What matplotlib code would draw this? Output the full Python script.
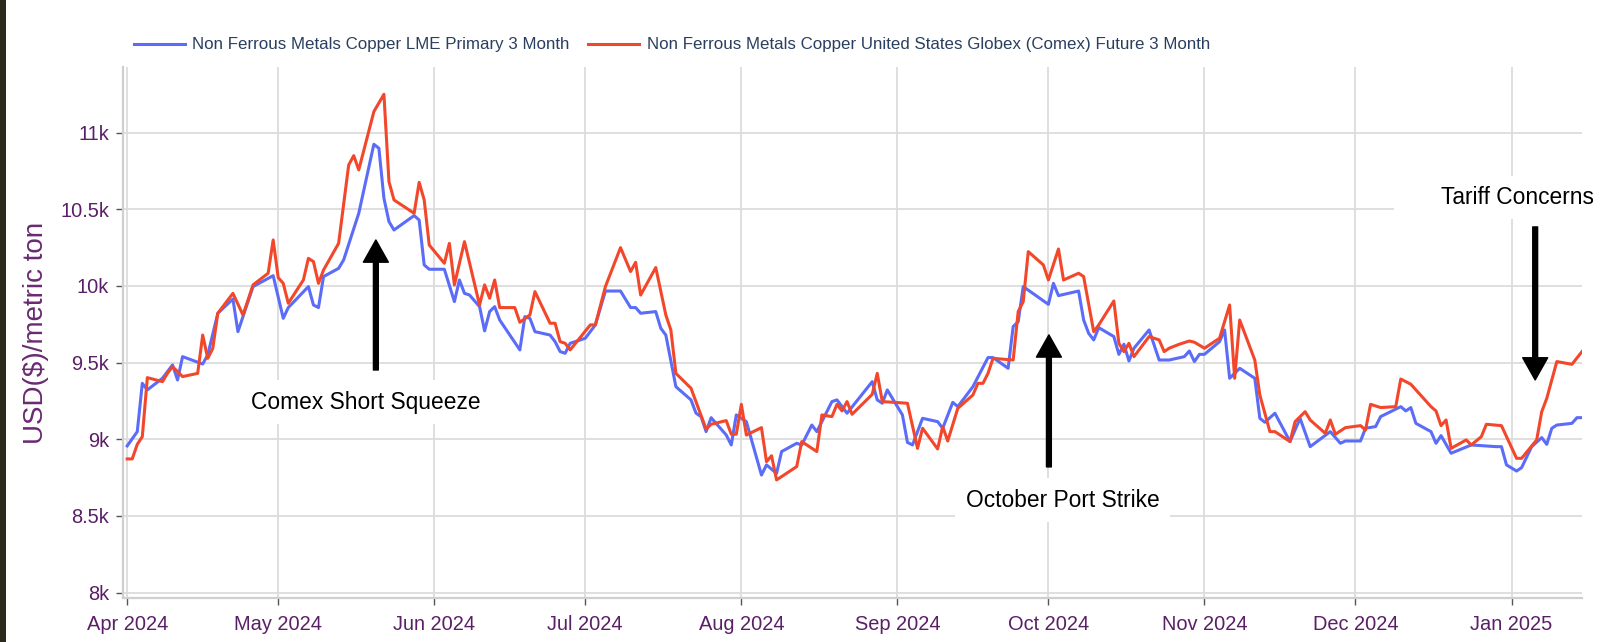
import numpy as np
import pandas as pd
import matplotlib
matplotlib.use('Agg')
import matplotlib.pyplot as plt
import matplotlib.dates as mdates
from matplotlib.ticker import FuncFormatter
from matplotlib.lines import Line2D
from matplotlib.patches import Rectangle

plt.rcParams['font.family'] = ['Liberation Sans', 'DejaVu Sans']

start = pd.Timestamp('2024-04-01')

# LME primary 3 month (days since 2024-04-01, USD/t)
lme_day = [0, 2, 3, 4, 7, 9, 10, 11, 15, 16, 18, 21, 22, 25, 29, 31, 32, 36, 37, 38,
           39, 42, 43, 46, 49, 50, 51, 52, 53, 57, 58, 59, 60, 63, 65, 66, 67, 68, 70, 71,
           72, 73, 74, 78, 79, 80, 81, 84, 85, 86, 87, 88, 91, 92, 93, 95, 98, 100, 101, 102,
           105, 106, 107, 109, 112, 113, 114, 115, 116, 119, 120, 121, 123, 126, 127, 129, 130, 133, 134, 136,
           137, 140, 141, 143, 148, 149, 150, 151, 154, 155, 156, 158, 161, 162, 164, 165, 168, 171, 172, 175,
           176, 177, 178, 183, 184, 185, 189, 190, 191, 192, 193, 196, 197, 198, 199, 200, 203, 205, 207, 210,
           211, 212, 213, 214, 217, 218, 219, 221, 224, 225, 226, 228, 231, 233, 235, 239, 241, 242, 245, 246,
           248, 249, 253, 254, 255, 256, 259, 260, 261, 263, 267, 272, 273, 274, 276, 277, 279, 281, 282, 283,
           284, 287, 288, 289]
lme_val = [8957, 9050, 9365, 9322, 9398, 9485, 9387, 9539, 9491, 9550, 9822, 9915, 9702, 9996, 10067, 9789, 9859, 9996, 9876, 9859,
           10061, 10115, 10170, 10474, 10924, 10898, 10572, 10420, 10365, 10459, 10430, 10137, 10109, 10109, 9898, 10039, 9952, 9941, 9865, 9707,
           9833, 9865, 9778, 9583, 9800, 9789, 9702, 9680, 9637, 9572, 9561, 9626, 9659, 9702, 9746, 9967, 9967, 9859, 9859, 9822,
           9833, 9724, 9680, 9343, 9257, 9170, 9148, 9050, 9141, 9028, 8963, 9159, 9115, 8767, 8833, 8778, 8920, 8974, 8963, 9093,
           9050, 9246, 9257, 9170, 9376, 9257, 9235, 9322, 9159, 8980, 8963, 9137, 9115, 9072, 9241, 9213, 9343, 9533, 9533, 9463,
           9735, 9767, 9996, 9880, 10017, 9937, 9967, 9778, 9691, 9648, 9728, 9670, 9554, 9620, 9511, 9594, 9713, 9517, 9517, 9539,
           9576, 9507, 9554, 9554, 9637, 9713, 9398, 9463, 9398, 9137, 9111, 9170, 8985, 9137, 8952, 9050, 8974, 8989, 8989, 9072,
           9083, 9148, 9213, 9185, 9207, 9104, 9050, 8974, 9024, 8909, 8963, 8952, 8952, 8833, 8793, 8815, 8952, 9011, 8967, 9072,
           9093, 9104, 9141, 9141]

# Comex future 3 month
comex_day = [0, 1, 2, 3, 4, 7, 8, 9, 10, 11, 14, 15, 16, 17, 18, 21, 23, 25, 28, 29,
             30, 31, 32, 35, 36, 37, 38, 39, 42, 44, 45, 46, 49, 51, 52, 53, 57, 58, 59, 60,
             63, 64, 65, 67, 70, 71, 72, 73, 74, 77, 78, 80, 81, 84, 85, 86, 87, 88, 92, 93,
             95, 98, 100, 101, 102, 105, 107, 108, 109, 112, 115, 116, 119, 120, 121, 122, 123, 126, 127, 128,
             129, 133, 134, 137, 138, 140, 141, 142, 143, 144, 148, 149, 150, 155, 157, 158, 161, 162, 163, 165,
             168, 169, 170, 171, 172, 176, 177, 178, 179, 182, 183, 185, 186, 189, 190, 192, 193, 196, 197, 198,
             199, 200, 203, 205, 206, 207, 209, 211, 212, 214, 217, 219, 220, 221, 224, 225, 227, 228, 231, 232,
             234, 235, 238, 239, 240, 242, 245, 246, 247, 249, 252, 253, 255, 259, 260, 261, 262, 263, 266, 267,
             269, 270, 273, 276, 277, 280, 281, 282, 284, 287, 289]
comex_val = [8872, 8872, 8967, 9017, 9402, 9376, 9430, 9474, 9441, 9409, 9430, 9680, 9528, 9593, 9822, 9952, 9811, 10007, 10083, 10300,
             10054, 10017, 9887, 10039, 10180, 10159, 10017, 10104, 10278, 10789, 10850, 10757, 11137, 11250, 10680, 10561, 10474, 10676, 10561, 10267,
             10148, 10278, 10007, 10289, 9876, 10007, 9920, 10039, 9859, 9859, 9763, 9811, 9963, 9757, 9757, 9637, 9626, 9583, 9746, 9746,
             9996, 10250, 10094, 10154, 9941, 10120, 9811, 9713, 9430, 9333, 9067, 9098, 9122, 9033, 9033, 9228, 9028, 9076, 8854, 8893,
             8735, 8822, 8985, 8920, 9159, 9148, 9228, 9185, 9246, 9163, 9293, 9430, 9246, 9235, 8941, 9072, 8937, 9083, 8989, 9202,
             9289, 9365, 9365, 9430, 9528, 9517, 9833, 9898, 10224, 10137, 10039, 10241, 10039, 10083, 10061, 9702, 9746, 9902, 9626, 9572,
             9626, 9539, 9670, 9648, 9572, 9594, 9620, 9641, 9633, 9594, 9659, 9876, 9398, 9778, 9517, 9289, 9050, 9050, 8985, 9115,
             9180, 9126, 9039, 9126, 9033, 9076, 9089, 9061, 9228, 9207, 9213, 9393, 9359, 9213, 9185, 9089, 9126, 8941, 8996, 8963,
             9017, 9098, 9089, 8876, 8876, 8996, 9180, 9267, 9507, 9489, 9572]

labels = ['Non Ferrous Metals Copper LME Primary 3 Month',
          'Non Ferrous Metals Copper United States Globex (Comex) Future 3 Month']
colors = ['#5a6cf8', '#f2472a']

# events: label, arrow day, arrow tail value, arrow tip value, text day, text value
events = [('Comex Short Squeeze', 49.4, 9452, 10300, 47.5, 9243),
          ('October Port Strike', 183.1, 8820, 9681, 185.8, 8604),
          ('Tariff Concerns', 279.7, 10385, 9387, 276.2, 10578)]

lme_x = start + pd.to_timedelta(lme_day, unit='D')
comex_x = start + pd.to_timedelta(comex_day, unit='D')

fig = plt.figure(figsize=(16, 6.42), dpi=100)
ax = fig.add_axes([123 / 1600, 1 - 598 / 642, (1582 - 123) / 1600, (598 - 67) / 642])

ax.plot(lme_x, lme_val, color=colors[0], lw=2.2, zorder=3, solid_joinstyle='round')
ax.plot(comex_x, comex_val, color=colors[1], lw=2.2, zorder=4, solid_joinstyle='round')

ax.set_xlim(start - pd.Timedelta(hours=20), start + pd.Timedelta(days=289))
ax.set_ylim(7965, 11428)
ax.set_yticks([8000, 8500, 9000, 9500, 10000, 10500, 11000])
ax.yaxis.set_major_formatter(FuncFormatter(lambda v, p: ('%g' % (v / 1000)) + 'k'))
ax.xaxis.set_major_locator(mdates.MonthLocator())
ax.xaxis.set_major_formatter(mdates.DateFormatter('%b %Y'))

ax.grid(True, color='#dcdcdc', lw=1.3, zorder=0)
for s in ['top', 'right']:
    ax.spines[s].set_visible(False)
for s in ['left', 'bottom']:
    ax.spines[s].set_color('#cfcfcf')
    ax.spines[s].set_linewidth(1.6)
ax.tick_params(axis='both', colors='#555555', length=5, width=1, labelsize=14.4,
               labelcolor='#5a1f66')
ax.tick_params(axis='x', pad=7)
ax.tick_params(axis='y', pad=5)
ax.set_ylabel('USD($)/metric ton', fontsize=20, color='#6a2a72', labelpad=8)

for name, ad, tail, tip, td, tv in events:
    xd = start + pd.Timedelta(days=ad)
    ax.annotate('', xy=(xd, tip), xytext=(xd, tail),
                arrowprops=dict(facecolor='black', edgecolor='black', width=3.5,
                                headwidth=18, headlength=16, shrink=0), zorder=6)
    ax.text(start + pd.Timedelta(days=td), tv, name, fontsize=16.4, color='black',
            ha='center', va='center', zorder=7,
            bbox=dict(boxstyle='square,pad=0.45', facecolor='white', edgecolor='none'))

# extra white area left of the tariff label
ax.add_patch(Rectangle((mdates.date2num(start + pd.Timedelta(days=251.6)), 10482),
                       40, 222, facecolor='white', edgecolor='none', zorder=2))

handles = [Line2D([0], [0], color=c, lw=2.2) for c in colors]
fig.legend(handles, labels, loc='center left', bbox_to_anchor=(134 / 1600, 1 - 45 / 642),
           ncol=2, frameon=False, fontsize=12.2, handlelength=3.0, handletextpad=0.45,
           columnspacing=1.1, borderpad=0, borderaxespad=0, labelcolor='#2a3f5f')

fig.patches.append(Rectangle((0, 0), 6 / 1600, 1, transform=fig.transFigure,
                             facecolor='#2b2a1c', edgecolor='none'))

plt.savefig('out.png', dpi=100)
